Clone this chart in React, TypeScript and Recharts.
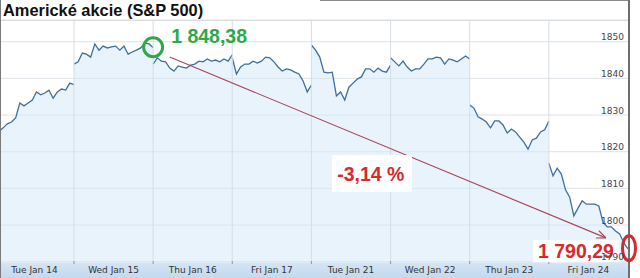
import { AreaChart, Area, XAxis, YAxis, CartesianGrid, ReferenceLine, ReferenceDot } from "recharts"

// S&P 500 intraday, 20 readings per trading day (last reading shares the day boundary)
const DAY_LABELS = ["Tue Jan 14", "Wed Jan 15", "Thu Jan 16", "Fri Jan 17", "Tue Jan 21", "Wed Jan 22", "Thu Jan 23", "Fri Jan 24"]

const jan14 = [1825.3, 1825.6, 1826.5, 1827.6, 1828.1, 1829.2, 1833.3, 1832.5, 1833.3, 1834.1, 1836.3, 1835.5, 1836.0, 1836.8, 1834.6, 1836.3, 1837.1, 1836.8, 1838.7, 1838.3]
const jan15 = [1843.9, 1844.5, 1846.9, 1846.6, 1845.8, 1849.4, 1847.7, 1848.8, 1848.3, 1848.6, 1848.8, 1847.7, 1848.8, 1846.6, 1847.2, 1847.7, 1848.3, 1849.6, 1849.4, 1848.4]
const jan16 = [1843.9, 1845.6, 1844.7, 1844.5, 1842.8, 1842.0, 1843.4, 1843.1, 1842.8, 1843.6, 1843.9, 1844.7, 1844.5, 1845.3, 1844.7, 1845.0, 1844.5, 1845.3, 1844.7, 1846.4]
const jan17 = [1845.6, 1841.2, 1843.1, 1843.9, 1843.9, 1844.7, 1844.2, 1844.7, 1845.8, 1845.6, 1844.5, 1843.1, 1842.0, 1842.6, 1842.3, 1841.7, 1841.2, 1839.3, 1836.3, 1838.2]
const jan21 = [1849.1, 1847.7, 1845.8, 1841.7, 1841.5, 1841.7, 1835.2, 1836.3, 1834.1, 1837.6, 1838.7, 1839.8, 1840.4, 1842.6, 1842.6, 1841.7, 1842.8, 1842.0, 1841.7, 1843.6]
const jan22 = [1845.6, 1844.5, 1843.4, 1844.7, 1843.1, 1842.0, 1842.6, 1842.6, 1843.9, 1845.3, 1845.3, 1845.8, 1845.6, 1843.9, 1845.3, 1845.0, 1844.5, 1845.3, 1846.1, 1845.3]
const jan23 = [1832.7, 1831.9, 1829.5, 1828.9, 1828.1, 1826.5, 1828.4, 1828.4, 1827.3, 1825.1, 1826.2, 1825.4, 1824.0, 1822.6, 1820.7, 1823.2, 1823.7, 1825.4, 1826.0, 1828.4]
const jan24 = [1816.9, 1813.4, 1815.5, 1813.9, 1809.6, 1807.6, 1802.5, 1804.6, 1806.6, 1805.7, 1805.7, 1805.7, 1805.2, 1800.8, 1799.5, 1799.5, 1798.4, 1797.6, 1795.1, 1793.5]

const DAYS = [jan14, jan15, jan16, jan17, jan21, jan22, jan23, jan24]
const SPAN = 19
const Y_TICKS = [1790, 1800, 1810, 1820, 1830, 1840, 1850]

const PEAK = 1848.38
const LAST = 1790.29
const CHANGE = "-3,14 %"

const chartData = DAYS.flatMap((vals, d) =>
  vals.map((v, i) => ({ t: d * SPAN + i, [`d${d}`]: v }))
)

const dayCenters = DAYS.map((_, d) => d * SPAN + SPAN / 2)
const dayBounds = DAYS.slice(1).map((_, d) => (d + 1) * SPAN)

const NUM_FONT = "'Liberation Sans', Arial, sans-serif"
const SMALL_FONT = "'DejaVu Sans', Verdana, sans-serif"
const RED = "#d42b2e"
const GREEN = "#2ea84a"

const czNumber = (v: number) => v.toFixed(2).replace(".", ",").replace(/^(\d)(\d{3})/, "$1 $2")

export default function App() {
  return (
    <div style={{ position: "absolute", left: 0, top: 0, width: 640, height: 278, background: "#fff", overflow: "hidden" }}>
      {/* axis band and frame */}
      <div style={{ position: "absolute", left: 1, top: 263, width: 627, height: 15, background: "linear-gradient(#d4e4f4, #c4d9ee)" }} />
      <div style={{ position: "absolute", left: 0, top: 20, width: 628, height: 1, background: "#d4d4d4" }} />
      <div style={{ position: "absolute", left: 0, top: 0, width: 1, height: 278, background: "#7a7a7a" }} />
      <div style={{ position: "absolute", left: 320, top: 0, width: 309, height: 1, background: "#8a8a8a" }} />
      <div style={{ position: "absolute", left: 628, top: 0, width: 2, height: 278, background: "#6f6f6f" }} />
      <div
        style={{
          position: "absolute", left: 3, top: 1, fontFamily: NUM_FONT, fontWeight: "bold",
          fontSize: 16.4, color: "#111", lineHeight: "19px", whiteSpace: "nowrap",
        }}
      >
        Americké akcie (S&amp;P 500)
      </div>
      <div style={{ position: "absolute", left: 0, top: 0 }}>
        <AreaChart width={640} height={278} data={chartData} margin={{ top: 20, right: 12, bottom: 0, left: 1 }} style={{ overflow: "visible" }}>
          <CartesianGrid vertical={false} stroke="#dde3e9" />
          {dayBounds.map((b) => (
            <ReferenceLine
              key={b}
              x={b}
              stroke="#d6dde4"
              shape={(p: any) => (
                <g>
                  <line x1={p.x1} y1={p.y1} x2={p.x2} y2={p.y2} stroke="#d6dde4" strokeWidth={1} />
                  <line x1={p.x1} y1={Math.max(p.y1, p.y2) - 2} x2={p.x2} y2={Math.max(p.y1, p.y2) + 1} stroke="#8a98a8" strokeWidth={1} />
                </g>
              )}
            />
          ))}
          <XAxis
            type="number"
            dataKey="t"
            domain={[1.48, 152]}
            allowDataOverflow
            ticks={dayCenters}
            tickLine={false}
            axisLine={false}
            height={15}
            tickSize={0}
            tickMargin={0}
            interval={0}
            tick={(p: any) => (
              <text x={p.x} y={p.y + 10} textAnchor="middle" fontFamily={SMALL_FONT} fontSize={9} fill="#333">
                {DAY_LABELS[Math.round((p.payload.value - SPAN / 2) / SPAN)]}
              </text>
            )}
          />
          {DAYS.map((_, d) => (
            <Area
              key={d}
              type="linear"
              dataKey={`d${d}`}
              stroke="#3f6f9d"
              strokeWidth={1.3}
              fill="#d6e9fa"
              fillOpacity={0.55}
              dot={false}
              activeDot={false}
              connectNulls={false}
              isAnimationActive={false}
            />
          ))}
          <YAxis
            orientation="right"
            mirror
            width={30}
            domain={[1789.65, 1855.92]}
            allowDataOverflow
            ticks={Y_TICKS}
            interval={0}
            tickLine={false}
            axisLine={false}
            tickSize={0}
            tickMargin={4}
            tick={(p: any) => (
              <text x={p.x} y={p.y - 1.5} textAnchor="end" fontFamily={SMALL_FONT} fontSize={9} fill="#444">
                {p.payload.value}
              </text>
            )}
          />
          <ReferenceLine
            segment={[{ x: 42.0, y: 1845.8 }, { x: 146.7, y: 1796.5 }]}
            ifOverflow="visible"
            stroke="#a94657"
            shape={(p: any) => {
              const ang = Math.atan2(p.y2 - p.y1, p.x2 - p.x1)
              const hl = 10
              const a1 = ang + Math.PI - 0.4
              const a2 = ang + Math.PI + 0.4
              return (
                <g stroke="#a94657" strokeWidth={1.1} fill="none">
                  <line x1={p.x1} y1={p.y1} x2={p.x2} y2={p.y2} />
                  <line x1={p.x2} y1={p.y2} x2={p.x2 + hl * Math.cos(a1)} y2={p.y2 + hl * Math.sin(a1)} />
                  <line x1={p.x2} y1={p.y2} x2={p.x2 + hl * Math.cos(a2)} y2={p.y2 + hl * Math.sin(a2)} />
                </g>
              )
            }}
          />
          <ReferenceDot
            x={38}
            y={1848.5}
            ifOverflow="visible"
            shape={(p: any) => (
              <g>
                <circle cx={p.cx} cy={p.cy} r={9.5} fill="none" stroke={GREEN} strokeWidth={3} />
                <text x={p.cx + 18} y={p.cy - 4} fontFamily={NUM_FONT} fontWeight="bold" fontSize={19.5} fill={GREEN}>
                  {czNumber(PEAK)}
                </text>
              </g>
            )}
          />
          <ReferenceDot
            x={90.5}
            y={1814.05}
            ifOverflow="visible"
            shape={(p: any) => (
              <g>
                <rect x={p.cx - 40} y={p.cy - 18.5} width={80} height={37} fill="#fff" />
                <text x={p.cx - 1} y={p.cy + 7} textAnchor="middle" fontFamily={NUM_FONT} fontWeight="bold" fontSize={19.5} fill={RED}>
                  {CHANGE}
                </text>
              </g>
            )}
          />
          <ReferenceDot
            x={152}
            y={1793.7}
            ifOverflow="visible"
            shape={(p: any) => (
              <g>
                <rect x={p.cx - 95} y={p.cy - 8} width={86} height={22} fill="#fff" />
                <text x={p.cx - 90} y={p.cy + 10} fontFamily={NUM_FONT} fontWeight="bold" fontSize={19.5} fill={RED}>
                  {czNumber(LAST)}
                </text>
                <ellipse cx={p.cx + 1} cy={p.cy} rx={6.5} ry={12.5} fill="none" stroke={RED} strokeWidth={3} />
              </g>
            )}
          />
        </AreaChart>
      </div>
    </div>
  )
}
